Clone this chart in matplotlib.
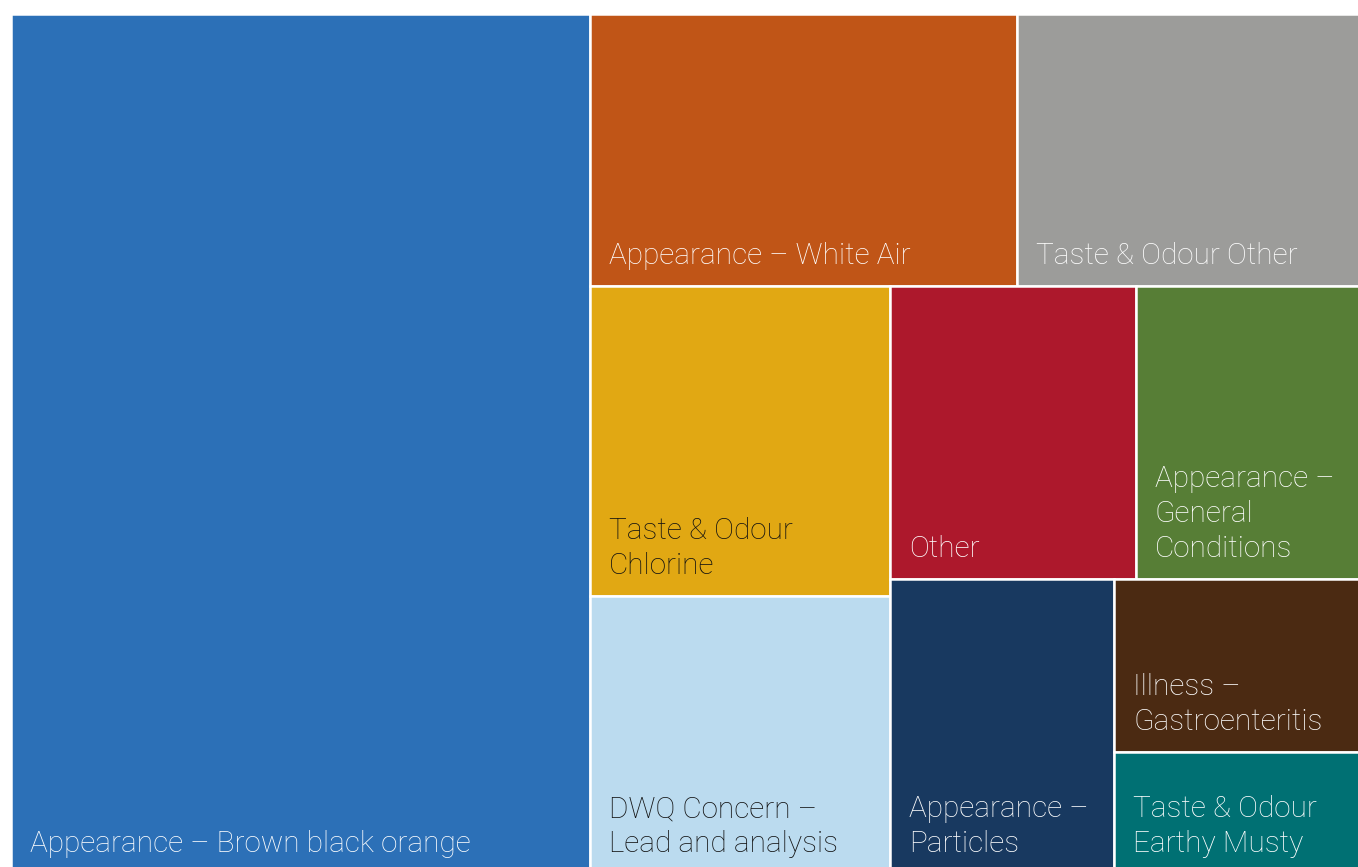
import matplotlib
matplotlib.use('Agg')
import matplotlib.pyplot as plt
from matplotlib.patches import Rectangle

# complaint categories (share of all water quality contacts, %)
labels = ['Appearance \u2013 Brown black orange',
          'Appearance \u2013 White Air',
          'Taste & Odour Other',
          'Taste & Odour\nChlorine',
          'DWQ Concern \u2013\nLead and analysis',
          'Other',
          'Appearance \u2013\nGeneral\nConditions',
          'Appearance \u2013\nParticles',
          'Illness \u2013\nGastroenteritis',
          'Taste & Odour\nEarthy Musty']
values = [42.9, 10.0, 8.1, 8.0, 7.2, 6.2, 5.7, 5.7, 3.7, 2.6]
colors = ['#2C70B7', '#C05517', '#9C9C9A', '#E1A813', '#BBDBEF',
          '#AD182C', '#577E36', '#183960', '#4B2A12', '#007073']
text_colors = ['white', 'white', 'white', '#111111', '#111111',
               'white', 'white', 'white', 'white', 'white']

W, H = 1351.0, 860.0


def worst(row, side):
    s = sum(row)
    return max(max(side * side * r / (s * s), s * s / (side * side * r)) for r in row)


def squarify(sizes, x, y, w, h):
    # squarified treemap (Bruls et al.), y grows downwards
    rects = []
    sizes = list(sizes)
    while sizes:
        side = min(w, h)
        row = [sizes[0]]
        i = 1
        while i < len(sizes) and worst(row + [sizes[i]], side) <= worst(row, side):
            row.append(sizes[i])
            i += 1
        s = sum(row)
        if w >= h:
            cw = s / h
            yy = y
            for a in row:
                rects.append((x, yy, cw, a / cw))
                yy += a / cw
            x += cw
            w -= cw
        else:
            rh = s / w
            xx = x
            for a in row:
                rects.append((xx, y, a / rh, rh))
                xx += a / rh
            y += rh
            h -= rh
        sizes = sizes[i:]
    return rects


total = sum(values)
areas = [v / total * W * H for v in values]
rects = squarify(areas, 0, 0, W, H)

fig = plt.figure(figsize=(13.58, 8.67), dpi=100)
ax = fig.add_axes([11 / 1358, (867 - 874) / 867, W / 1358, H / 867])
ax.set_xlim(0, W)
ax.set_ylim(H, 0)
ax.axis('off')

for (x, y, w, h), lab, c, tc in zip(rects, labels, colors, text_colors):
    ax.add_patch(Rectangle((x, y), w, h, facecolor=c, edgecolor='white', linewidth=1.8))
    ax.text(x + 19, y + h - 22, lab, ha='left', va='baseline', color=tc,
            fontsize=21.4, family='Roboto', fontweight='light', linespacing=1.31)

plt.savefig('out.png', dpi=100)
